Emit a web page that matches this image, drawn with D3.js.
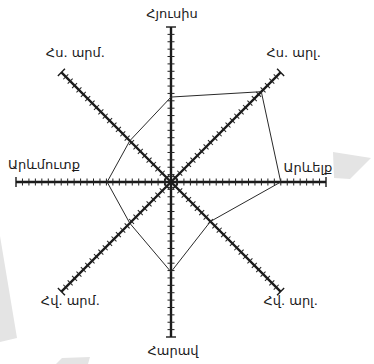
<!DOCTYPE html>
<html>
<head>
<meta charset="utf-8">
<script src="https://cdn.jsdelivr.net/npm/d3@7"></script>
<style>
  html, body { margin: 0; padding: 0; background: #fff; }
  svg { display: block; }
  .label { font-family: "DejaVu Sans", sans-serif; font-size: 13px; fill: #1a1a1a; }
</style>
</head>
<body>
<svg id="chart" width="374" height="364"></svg>
<script>
  // directions, clockwise from north
  var directions = ['Հյուսիս', 'Հս. արլ.', 'Արևելք', 'Հվ. արլ.', 'Հարավ', 'Հվ. արմ.', 'Արևմուտք', 'Հս. արմ.'];
  var angles = [0, 45, 90, 135, 180, 225, 270, 315];
  // wind frequency along each direction (same units as the rose scale)
  var windValues = [13.7, 20.6, 17.7, 9.0, 14.5, 9.4, 10.3, 9.4];
  // number of tick marks on each axis
  var tickCounts = [21, 25, 24, 25, 21, 25, 24, 25];
  var maxValue = 25;

  var width = 374, height = 364;
  var cx = 171, cy = 182, R = 155;

  var svg = d3.select('#chart');

  // light grey background shapes
  var bgShapes = [
    [[333, 152], [371, 158], [350, 179], [334, 178]],
    [[0, 236], [17, 338], [0, 342]],
    [[56, 364], [62, 358], [90, 357], [88, 364]]
  ];
  svg.selectAll('.bg').data(bgShapes).enter().append('polygon')
    .attr('class', 'bg')
    .attr('points', function(d) { return d.map(function(p) { return p.join(','); }).join(' '); })
    .attr('fill', '#e4e4e4');

  var r = d3.scaleLinear().domain([0, maxValue]).range([0, R]);

  function point(angle, dist) {
    var a = angle * Math.PI / 180;
    return [cx + dist * Math.sin(a), cy - dist * Math.cos(a)];
  }

  // axes with ticks
  var axes = svg.selectAll('.axis').data(angles).enter().append('g')
    .attr('class', 'axis')
    .attr('transform', function(a) { return 'translate(' + cx + ',' + cy + ') rotate(' + a + ')'; });

  axes.append('line')
    .attr('x1', 0).attr('y1', 0)
    .attr('x2', 0).attr('y2', -R)
    .attr('stroke', '#1a1a1a')
    .attr('stroke-width', 2.4);

  axes.each(function(a, i) {
    var s = d3.scaleLinear().domain([0, tickCounts[i]]).range([0, R]);
    var ticks = d3.range(1, tickCounts[i]);
    d3.select(this).selectAll('.tick').data(ticks).enter().append('line')
      .attr('class', 'tick')
      .attr('x1', -3.5).attr('x2', 3.5)
      .attr('y1', function(t) { return -s(t); })
      .attr('y2', function(t) { return -s(t); })
      .attr('stroke', '#222')
      .attr('stroke-width', 1);
    // end cap
    d3.select(this).append('line')
      .attr('x1', -5).attr('x2', 5)
      .attr('y1', -R).attr('y2', -R)
      .attr('stroke', '#1a1a1a')
      .attr('stroke-width', 1.4);
  });

  svg.append('circle')
    .attr('cx', cx).attr('cy', cy).attr('r', 6)
    .attr('fill', 'none')
    .attr('stroke', '#222')
    .attr('stroke-width', 1.2);

  // wind rose polygon
  var line = d3.line().curve(d3.curveLinearClosed);
  svg.append('path')
    .attr('d', line(windValues.map(function(v, i) { return point(angles[i], r(v)); })))
    .attr('fill', 'none')
    .attr('stroke', '#2a2a2a')
    .attr('stroke-width', 1);

  // label offsets from the end of each axis
  var labelOffset = {
    0: [1, -9], 45: [13, -15], 90: [-18, -10], 135: [10, 13],
    180: [2, 18], 225: [9, 13], 270: [28, -13], 315: [14, -15]
  };
  svg.selectAll('.label').data(directions).enter().append('text')
    .attr('class', 'label')
    .attr('text-anchor', 'middle')
    .attr('x', function(d, i) { return point(angles[i], R)[0] + labelOffset[angles[i]][0]; })
    .attr('y', function(d, i) { return point(angles[i], R)[1] + labelOffset[angles[i]][1]; })
    .text(function(d) { return d; });
</script>
</body>
</html>
